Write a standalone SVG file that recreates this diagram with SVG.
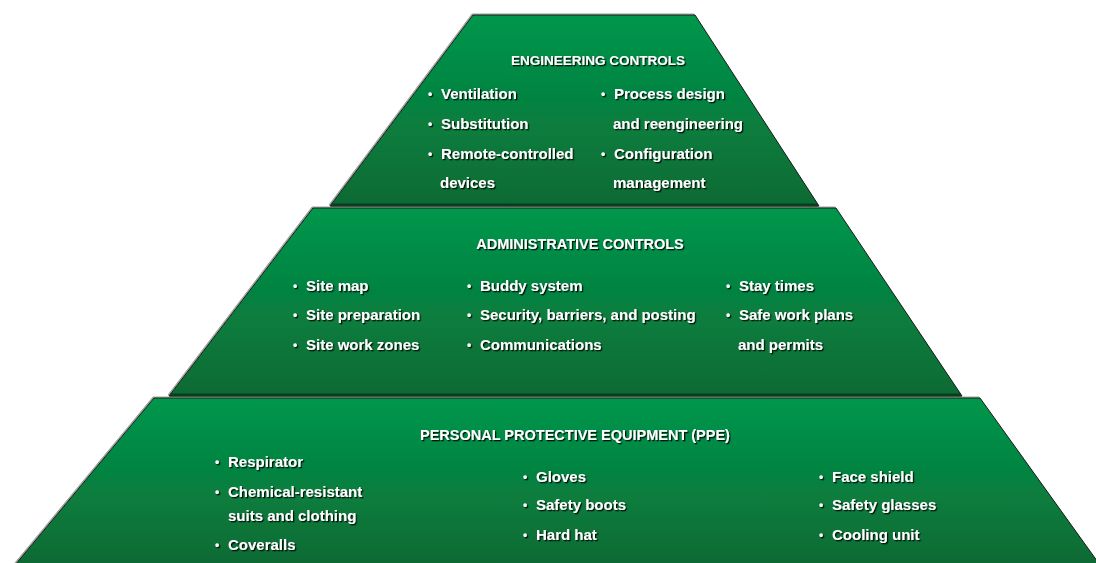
<svg xmlns="http://www.w3.org/2000/svg" width="1096" height="563" viewBox="0 0 1096 563">
<defs>
  <linearGradient id="tierFill" x1="0" y1="0" x2="0" y2="1">
    <stop offset="0" stop-color="#02974c"/>
    <stop offset="1" stop-color="#0b6a33"/>
  </linearGradient>
  <filter id="shadow" x="-10%" y="-30%" width="120%" height="160%">
    <feDropShadow dx="1.3" dy="1.3" stdDeviation="0.5" flood-color="#000" flood-opacity="0.85"/>
  </filter>
  <filter id="edge" x="-5%" y="-5%" width="110%" height="110%">
    <feDropShadow dx="-1" dy="-1" stdDeviation="0.6" flood-color="#777" flood-opacity="0.7"/>
  </filter>
</defs>
<style>
  .tier { fill: url(#tierFill); stroke: #0e1f14; stroke-width: 1; filter: url(#edge); }
  .base { stroke: #053f1c; stroke-width: 3; }
  .txt { fill: #ffffff; font-family: "Liberation Sans", Arial, sans-serif; font-weight: bold; font-size: 15px; filter: url(#shadow); }
  .title { font-size: 14.5px; text-anchor: middle; }
  .b { font-size: 12px; }
</style>
<rect width="1096" height="563" fill="#ffffff"/>

<g id="ppe">
  <polygon class="tier" points="154,398 980,398 1100,565 15,565"/>
  <g class="txt">
    <text class="title" x="575" y="440">PERSONAL PROTECTIVE EQUIPMENT (PPE)</text>
    <text class="b" x="215" y="466">•</text><text x="228" y="467">Respirator</text>
    <text class="b" x="215" y="496">•</text><text x="228" y="497">Chemical-resistant</text>
    <text x="228" y="521">suits and clothing</text>
    <text class="b" x="215" y="549">•</text><text x="228" y="550">Coveralls</text>
    <text class="b" x="523" y="481">•</text><text x="536" y="482">Gloves</text>
    <text class="b" x="523" y="509">•</text><text x="536" y="510">Safety boots</text>
    <text class="b" x="523" y="539">•</text><text x="536" y="540">Hard hat</text>
    <text class="b" x="819" y="481">•</text><text x="832" y="482">Face shield</text>
    <text class="b" x="819" y="509">•</text><text x="832" y="510">Safety glasses</text>
    <text class="b" x="819" y="539">•</text><text x="832" y="540">Cooling unit</text>
  </g>
</g>

<g id="administrative">
  <polygon class="tier" points="313,208 836,208 962,396 169,396"/>
  <line class="base" x1="170" y1="395" x2="961" y2="395"/>
  <g class="txt">
    <text class="title" x="580" y="249">ADMINISTRATIVE CONTROLS</text>
    <text class="b" x="293" y="290">•</text><text x="306" y="291">Site map</text>
    <text class="b" x="293" y="319">•</text><text x="306" y="320">Site preparation</text>
    <text class="b" x="293" y="349">•</text><text x="306" y="350">Site work zones</text>
    <text class="b" x="467" y="290">•</text><text x="480" y="291">Buddy system</text>
    <text class="b" x="467" y="319">•</text><text x="480" y="320">Security, barriers, and posting</text>
    <text class="b" x="467" y="349">•</text><text x="480" y="350">Communications</text>
    <text class="b" x="726" y="290">•</text><text x="739" y="291">Stay times</text>
    <text class="b" x="726" y="319">•</text><text x="739" y="320">Safe work plans</text>
    <text x="738" y="350">and permits</text>
  </g>
</g>

<g id="engineering">
  <polygon class="tier" points="473,15 695,15 819,206 330,206"/>
  <line class="base" x1="331" y1="205" x2="818" y2="205"/>
  <g class="txt">
    <text class="title" x="598" y="65" style="font-size:13.5px">ENGINEERING CONTROLS</text>
    <text class="b" x="428" y="98">•</text><text x="441" y="99">Ventilation</text>
    <text class="b" x="428" y="128">•</text><text x="441" y="129">Substitution</text>
    <text class="b" x="428" y="158">•</text><text x="441" y="159">Remote-controlled</text>
    <text x="440" y="188">devices</text>
    <text class="b" x="601" y="98">•</text><text x="614" y="99">Process design</text>
    <text x="613" y="129">and reengineering</text>
    <text class="b" x="601" y="158">•</text><text x="614" y="159">Configuration</text>
    <text x="613" y="188">management</text>
  </g>
</g>
</svg>
